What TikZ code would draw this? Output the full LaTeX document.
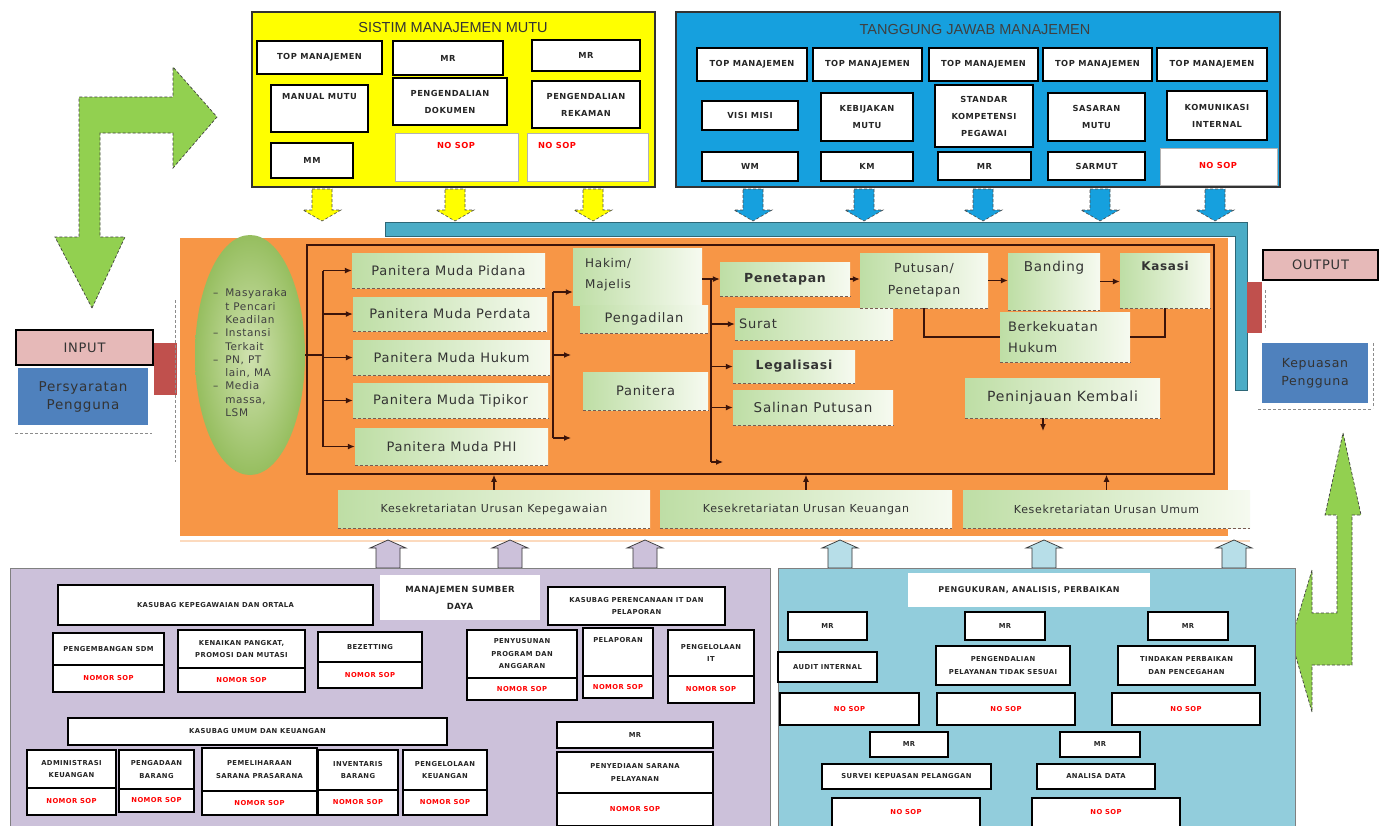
\documentclass[tikz,border=0pt]{standalone}
\usepackage{fontspec}
\setmainfont{Liberation Sans}
\newfontfamily\vfont[LetterSpace=6]{DejaVu Sans}
\usetikzlibrary{arrows.meta,shapes.geometric,calc}
\definecolor{ylw}{RGB}{255,255,0}
\definecolor{skyb}{RGB}{22,160,222}
\definecolor{orng}{RGB}{247,150,70}
\definecolor{lgrn}{RGB}{146,208,80}
\definecolor{pnk}{RGB}{230,185,184}
\definecolor{bblue}{RGB}{79,129,189}
\definecolor{rred}{RGB}{192,80,77}
\definecolor{lav}{RGB}{204,193,218}
\definecolor{tealb}{RGB}{146,205,220}
\definecolor{aqua}{RGB}{75,172,198}
\definecolor{gL}{RGB}{190,222,165}
\definecolor{gW}{RGB}{246,250,240}
\definecolor{brn}{RGB}{60,20,10}
\definecolor{ltb}{RGB}{183,222,232}
\newcommand{\fs}[2]{\fontsize{#1}{#2}\selectfont}
\newcommand{\bx}[7][]{\node[#1,minimum width={(#5-#3)*1pt},minimum height={(#6-#4)*1pt}] (#2) at ({(#3+#5)/2},{(#4+#6)/2}) {#7};}
\newcommand{\darr}[3]{\filldraw[#3] ({#1-10},#2) -- ({#1+10},#2) -- ({#1+10},{#2+21}) -- ({#1+19},{#2+21}) -- (#1,{#2+32}) -- ({#1-19},{#2+21}) -- ({#1-10},{#2+21}) -- cycle;}
\newcommand{\uarr}[2]{\filldraw[#2] (#1,540) -- ({#1+18},548) -- ({#1+12},548) -- ({#1+12},568) -- ({#1-12},568) -- ({#1-12},548) -- ({#1-18},548) -- cycle;}
\begin{document}
\begin{tikzpicture}[x=1pt,y=-1pt,
  wb/.style={draw=black,line width=1.5pt,fill=white,align=center,inner sep=1pt,font=\vfont\fs{8.3}{17}\bfseries,text=black!85},
  nb/.style={draw=black!30,line width=0.5pt,fill=white,inner sep=1pt},
  tt/.style={align=center,inner sep=0pt,font=\vfont\fs{8.3}{17}\bfseries,text=black!85},
  rt/.style={text=red,inner sep=0pt,font=\vfont\fs{8.3}{10}\bfseries},
  pb/.style={wb,font=\vfont\fs{6.8}{12.5}\bfseries},
  pr/.style={wb,text=red,font=\vfont\fs{6.8}{12.5}\bfseries},
  gb/.style={left color=gL,right color=gW,align=center,inner sep=2pt,font=\vfont\fs{13}{15},text=black!80},
  ln/.style={draw=brn,line width=1.2pt},
  arr/.style={ln,-{Latex[length=7pt,width=6pt]}},
  yarr/.style={fill=ylw,draw=black!70,densely dashed,line width=0.6pt},
  barr/.style={fill=skyb,draw=black!70,densely dashed,line width=0.6pt},
  parr/.style={fill=lav,draw=black!80,line width=0.7pt},
  larr/.style={fill=ltb,draw=black!80,line width=0.7pt},
  garr/.style={fill=lgrn,draw=black!75,densely dashed,line width=0.7pt},
  dsh/.style={draw=black!45,densely dashed,line width=0.6pt}]
\useasboundingbox (0,0) rectangle (1382,825);
\fill[white] (0,0) rectangle (1382,825);

% green bent arrows
\filldraw[garr] (92,308) -- (125,237) -- (100,237) -- (100,133) -- (173,133) -- (173,168) -- (217,117) -- (173,67) -- (173,97) -- (79,97) -- (79,237) -- (55,237) -- cycle;
\filldraw[garr] (1343,433) -- (1361,515) -- (1352,515) -- (1352,665) -- (1312,665) -- (1312,712) -- (1291,640) -- (1312,570) -- (1312,613) -- (1337,613) -- (1337,515) -- (1325,515) -- cycle;

% ===== SISTIM MANAJEMEN MUTU =====
\bx[fill=ylw,draw=black!80,line width=1.2pt]{ysys}{252}{12}{655}{187}{}
\node[font=\fs{14.5}{16},text=black!80] (ytitle) at (453,28) {SISTIM MANAJEMEN MUTU};
\bx[wb]{y1}{257}{41}{382}{74}{TOP MANAJEMEN}
\bx[wb]{y2}{393}{41}{503}{75}{MR}
\bx[wb]{y3}{532}{40}{640}{71}{MR}
\bx[wb]{y4}{271}{85}{368}{132}{}
\node[tt,anchor=north] (y4t) at ($(y4.north)+(0,9)$) {MANUAL MUTU};
\bx[wb]{y5}{393}{78}{507}{125}{PENGENDALIAN\\DOKUMEN}
\bx[wb]{y6}{532}{81}{640}{128}{PENGENDALIAN\\REKAMAN}
\bx[wb]{y7}{271}{143}{353}{178}{MM}
\bx[nb]{y8}{395}{133}{518}{181}{}
\node[rt] (y8t) at (456,145) {NO SOP};
\bx[nb]{y9}{527}{133}{648}{181}{}
\node[rt] (y9t) at (557,145) {NO SOP};
\darr{322}{189}{yarr}
\darr{455}{189}{yarr}
\darr{593}{189}{yarr}

% ===== TANGGUNG JAWAB MANAJEMEN =====
\bx[fill=skyb,draw=black!80,line width=1.2pt]{bsys}{676}{12}{1280}{187}{}
\node[font=\fs{14.5}{16},text=black!75] (btitle) at (975,30) {TANGGUNG JAWAB MANAJEMEN};
\bx[wb]{t1}{697}{48}{807}{81}{TOP MANAJEMEN}
\bx[wb]{t2}{813}{48}{922}{81}{TOP MANAJEMEN}
\bx[wb]{t3}{929}{48}{1038}{81}{TOP MANAJEMEN}
\bx[wb]{t4}{1043}{48}{1152}{81}{TOP MANAJEMEN}
\bx[wb]{t5}{1157}{48}{1267}{81}{TOP MANAJEMEN}
\bx[wb]{m1}{702}{101}{798}{130}{VISI MISI}
\bx[wb]{m2}{821}{93}{913}{141}{KEBIJAKAN\\MUTU}
\bx[wb]{m3}{935}{85}{1033}{147}{STANDAR\\KOMPETENSI\\PEGAWAI}
\bx[wb]{m4}{1048}{93}{1145}{141}{SASARAN\\MUTU}
\bx[wb]{m5}{1167}{91}{1267}{140}{KOMUNIKASI\\INTERNAL}
\bx[wb]{s1}{702}{152}{798}{181}{WM}
\bx[wb]{s2}{821}{152}{913}{181}{KM}
\bx[wb]{s3}{938}{152}{1031}{180}{MR}
\bx[wb]{s4}{1048}{152}{1145}{180}{SARMUT}
\bx[nb]{s5}{1160}{148}{1277}{185}{}
\node[rt] (s5t) at (1218,165) {NO SOP};
\darr{753}{189}{barr}
\darr{864}{189}{barr}
\darr{983}{189}{barr}
\darr{1100}{189}{barr}
\darr{1215}{189}{barr}

% cyan bar
\filldraw[fill=aqua,draw=aqua!60!black,line width=0.6pt] (385,222) -- (1247,222) -- (1247,390) -- (1235,390) -- (1235,236) -- (385,236) -- cycle;

% ===== orange process area =====
\bx[fill=orng,draw=none]{orange}{180}{238}{1228}{536}{}
\draw[orng!35,line width=1.5pt] (180,541) -- (1250,541);
\bx[draw=brn,line width=1.6pt]{frm}{307}{245}{1214}{474}{}

\node[ellipse,minimum width=110pt,minimum height=240pt,inner color={rgb,255:red,208;green,226;blue,176},outer color={rgb,255:red,150;green,190;blue,95}] (ell) at (250,355) {};
\node[font=\vfont\fs{10.5}{13.3},text=black!75,inner sep=0pt] (elltxt) at (250,354) {\begin{tabular}{@{}l@{\hspace{7pt}}l@{}}
–&Masyaraka\\ &t Pencari\\ &Keadilan\\
–&Instansi\\ &Terkait\\
–&PN, PT\\ &lain, MA\\
–&Media\\ &massa,\\ &LSM\end{tabular}};

\bx[gb]{P1}{352}{253}{545}{288}{Panitera Muda Pidana}
\bx[gb]{P2}{353}{297}{547}{331}{Panitera Muda Perdata}
\bx[gb]{P3}{353}{340}{550}{375}{Panitera Muda Hukum}
\bx[gb]{P4}{353}{383}{548}{418}{Panitera Muda Tipikor}
\bx[gb]{P5}{355}{428}{548}{465}{Panitera Muda PHI}
\bx[gb]{H}{573}{248}{702}{305}{}
\node[font=\vfont\fs{12}{21},text=black!80,align=left,anchor=north west,inner sep=0pt] (Ht) at (585,258) {Hakim/\\Majelis};
\bx[gb]{Pg}{580}{305}{708}{333}{Pengadilan}
\bx[gb]{Pn}{583}{372}{708}{410}{Panitera}
\bx[gb,font=\vfont\fs{12.5}{14}\bfseries]{Pen}{720}{262}{850}{296}{Penetapan}
\bx[gb,font=\vfont\fs{12.5}{22}]{Put}{860}{253}{988}{308}{Putusan/\\Penetapan}
\bx[gb]{Ban}{1008}{253}{1100}{310}{}
\node[font=\vfont\fs{13.5}{15},text=black!80,anchor=north,inner sep=0pt] (Bant) at ($(Ban.north)+(0,8)$) {Banding};
\bx[gb]{Kas}{1120}{253}{1210}{308}{}
\node[font=\vfont\fs{12}{14}\bfseries,text=black!80,anchor=north,inner sep=0pt] (Kast) at ($(Kas.north)+(0,8)$) {Kasasi};
\bx[gb,align=left,text width=150pt]{Sur}{735}{308}{893}{340}{Surat}
\bx[gb,font=\vfont\fs{12.5}{14}\bfseries]{Leg}{733}{350}{855}{383}{Legalisasi}
\bx[gb,font=\vfont\fs{13.5}{15}]{Sal}{733}{390}{893}{425}{Salinan Putusan}
\bx[gb,align=left,text width=114pt,font=\vfont\fs{13}{21}]{Berk}{1000}{312}{1130}{362}{Berkekuatan\\Hukum}
\bx[gb,font=\vfont\fs{14}{15}]{PK}{965}{378}{1160}{418}{Peninjauan Kembali}

\bx[gb,font=\vfont\fs{11}{13}]{K1}{338}{490}{650}{528}{Kesekretariatan Urusan Kepegawaian}
\bx[gb,font=\vfont\fs{11}{13}]{K2}{660}{490}{952}{528}{Kesekretariatan Urusan Keuangan}
\bx[gb,font=\vfont\fs{11}{13}]{K3}{963}{490}{1250}{528}{Kesekretariatan Urusan Umum}

\foreach \n in {P1,P2,P3,P4,P5,Pg,Pn,Pen,Put,Ban,Kas,Sur,Leg,Sal,Berk,PK,K1,K2,K3}
  \draw[brn!70,densely dashed,line width=0.8pt] (\n.south west) -- (\n.south east);

% connectors
\coordinate (bx1) at (323,355);
\draw[ln] (ell.east) -- (bx1);
\draw[ln] (P1.west -| bx1) -- (P5.west -| bx1);
\foreach \n in {P1,P2,P3,P4,P5} \draw[arr] (\n.west -| bx1) -- (\n.west);
\coordinate (bx2) at (553,292);
\coordinate (bx2b) at (553,438);
\coordinate (a2) at (571,355);
\coordinate (a3) at (571,438);
\draw[ln] (bx2) -- (bx2b);
\draw[arr] (bx2) -- (bx2 -| H.west);
\draw[arr] (a2 -| bx2) -- (a2);
\draw[arr] (bx2b) -- (a3);
\coordinate (bx3) at (711,462);
\coordinate (a4) at (723,462);
\draw[ln] (bx3 |- Pen.west) -- (bx3);
\draw[arr] (H.east |- Pen.west) -- (Pen.west);
\foreach \n in {Sur,Leg,Sal} \draw[arr] (\n.west -| bx3) -- (\n.west);
\draw[arr] (bx3) -- (a4);
\draw[arr] (Pen.east) -- (Pen.east -| Put.west);
\draw[arr] (Put.east) -- (Put.east -| Ban.west);
\draw[arr] (Ban.east) -- (Ban.east -| Kas.west);
\draw[ln] (Put.south) |- (Berk.west);
\draw[ln] (Berk.east) -| (Kas.south);
\coordinate (pkd) at (1043,431);
\draw[arr] (pkd |- PK.south) -- (pkd);
\foreach \n in {K1,K2,K3} \draw[arr] (\n.north) -- (\n.north |- frm.south);

% input / output
\bx[fill=pnk,draw=black,line width=1.2pt,font=\vfont\fs{13}{15},text=black!80]{inp}{16}{330}{153}{365}{INPUT}
\bx[fill=bblue,draw=none,font=\vfont\fs{13.5}{18},text=black!80,align=center]{req}{18}{368}{148}{425}{Persyaratan\\Pengguna}
\bx[fill=rred,draw=none]{rl}{154}{343}{177}{395}{}
\bx[fill=pnk,draw=black,line width=1.2pt,font=\vfont\fs{13}{15},text=black!80]{outp}{1263}{250}{1378}{280}{OUTPUT}
\bx[fill=bblue,draw=none,font=\vfont\fs{12.5}{18},text=black!80,align=center]{sat}{1262}{343}{1368}{403}{Kepuasan\\Pengguna}
\bx[fill=rred,draw=none]{rr}{1247}{282}{1262}{333}{}
\draw[dsh] (15,433) -- (152,433);
\draw[dsh] (175,300) -- (175,462);
\draw[dsh] (1258,409) -- (1372,409);
\draw[dsh] (1373,343) -- (1373,408);
\draw[dsh] (1265,290) -- (1265,330);

% up arrows
\uarr{388}{parr}
\uarr{510}{parr}
\uarr{645}{parr}
\uarr{840}{larr}
\uarr{1044}{larr}
\uarr{1234}{larr}

% ===== MANAJEMEN SUMBER DAYA =====
\bx[fill=lav,draw=black!50,line width=0.8pt]{msd}{10}{568}{770}{827}{}
\bx[pb]{ka}{58}{585}{373}{625}{KASUBAG KEPEGAWAIAN DAN ORTALA}
\bx[fill=white,draw=none,font=\vfont\fs{8.5}{17}\bfseries,align=center,text=black!85]{msdt}{380}{575}{540}{620}{MANAJEMEN SUMBER\\DAYA}
\bx[pb]{kb}{548}{587}{725}{625}{KASUBAG PERENCANAAN IT DAN\\PELAPORAN}
\bx[pb]{A1}{53}{633}{164}{665}{PENGEMBANGAN SDM}
\bx[pr]{A2}{53}{665}{164}{692}{NOMOR SOP}
\bx[pb]{B1}{178}{630}{305}{668}{KENAIKAN PANGKAT,\\PROMOSI DAN MUTASI}
\bx[pr]{B2}{178}{668}{305}{692}{NOMOR SOP}
\bx[pb]{C1}{318}{632}{422}{662}{BEZETTING}
\bx[pr]{C2}{318}{662}{422}{688}{NOMOR SOP}
\bx[pb]{D1}{467}{630}{577}{678}{PENYUSUNAN\\PROGRAM DAN\\ANGGARAN}
\bx[pr]{D2}{467}{678}{577}{700}{NOMOR SOP}
\bx[pb]{E1}{583}{628}{653}{676}{}
\node[tt,font=\vfont\fs{6.8}{12.5}\bfseries,anchor=north] (E1t) at ($(E1.north)+(0,10)$) {PELAPORAN};
\bx[pr]{E2}{583}{676}{653}{698}{NOMOR SOP}
\bx[pb]{F1}{668}{630}{754}{676}{PENGELOLAAN\\IT}
\bx[pr]{F2}{668}{676}{754}{703}{NOMOR SOP}
\bx[pb]{ku}{68}{718}{447}{745}{KASUBAG UMUM DAN KEUANGAN}
\bx[pb]{G1}{27}{750}{116}{788}{ADMINISTRASI\\KEUANGAN}
\bx[pr]{G2}{27}{788}{116}{815}{NOMOR SOP}
\bx[pb]{H1}{119}{750}{194}{789}{PENGADAAN\\BARANG}
\bx[pr]{H2}{119}{789}{194}{812}{NOMOR SOP}
\bx[pb]{I1}{202}{748}{317}{791}{PEMELIHARAAN\\SARANA PRASARANA}
\bx[pr]{I2}{202}{791}{317}{815}{NOMOR SOP}
\bx[pb]{J1}{318}{750}{398}{790}{INVENTARIS\\BARANG}
\bx[pr]{J2}{318}{790}{398}{815}{NOMOR SOP}
\bx[pb]{L1}{403}{750}{487}{790}{PENGELOLAAN\\KEUANGAN}
\bx[pr]{L2}{403}{790}{487}{815}{NOMOR SOP}
\bx[pb]{mr9}{557}{722}{713}{748}{MR}
\bx[pb]{M1}{557}{752}{713}{793}{PENYEDIAAN SARANA\\PELAYANAN}
\bx[pr]{M2}{557}{793}{713}{826}{NOMOR SOP}

% ===== PENGUKURAN, ANALISIS, PERBAIKAN =====
\bx[fill=tealb,draw=black!50,line width=0.8pt]{pap}{778}{568}{1295}{827}{}
\bx[fill=white,draw=none,font=\vfont\fs{8}{10}\bfseries,text=black!85]{papt}{908}{573}{1150}{607}{PENGUKURAN, ANALISIS, PERBAIKAN}
\bx[pb]{q1}{788}{612}{867}{640}{MR}
\bx[pb]{q2}{965}{612}{1045}{640}{MR}
\bx[pb]{q3}{1148}{612}{1228}{640}{MR}
\bx[pb]{r1}{778}{652}{877}{682}{AUDIT INTERNAL}
\bx[pb]{r2}{936}{646}{1070}{685}{PENGENDALIAN\\PELAYANAN TIDAK SESUAI}
\bx[pb]{r3}{1118}{646}{1255}{685}{TINDAKAN PERBAIKAN\\DAN PENCEGAHAN}
\bx[pr]{u1}{780}{693}{919}{725}{NO SOP}
\bx[pr]{u2}{937}{693}{1075}{725}{NO SOP}
\bx[pr]{u3}{1112}{693}{1260}{725}{NO SOP}
\bx[pb]{v1}{870}{732}{948}{757}{MR}
\bx[pb]{v2}{1060}{732}{1140}{757}{MR}
\bx[pb]{w1}{822}{764}{991}{789}{SURVEI KEPUASAN PELANGGAN}
\bx[pb]{w2}{1037}{764}{1155}{789}{ANALISA DATA}
\bx[pr]{x1}{832}{798}{980}{827}{NO SOP}
\bx[pr]{x2}{1032}{798}{1180}{827}{NO SOP}
\end{tikzpicture}
\end{document}
